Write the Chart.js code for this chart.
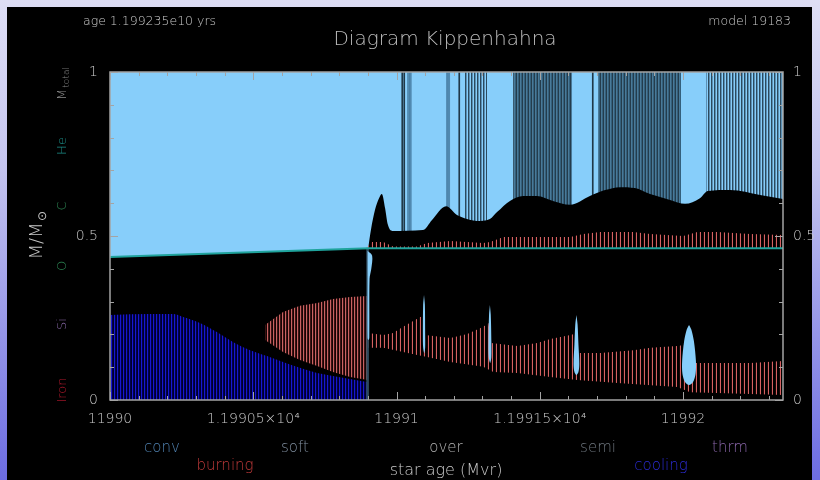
<!DOCTYPE html>
<html>
<head>
<meta charset="utf-8">
<script src="https://cdn.jsdelivr.net/npm/chart.js@4.4.0/dist/chart.umd.min.js"></script>
<style>
  html, body { margin: 0; padding: 0; }
  body {
    width: 820px; height: 480px; overflow: hidden; position: relative;
    background: linear-gradient(to bottom, #dedef5 0%, #c4c4ef 35%, #6c6ce2 100%);
  }
  #panel { position: absolute; left: 7px; top: 7px; width: 805px; height: 473px; background: #000; }
  #myChart { position: absolute; left: 0; top: 0; }
</style>
</head>
<body>
<div id="panel"></div>
<canvas id="myChart" width="820" height="480"></canvas>
<script>
// axis ticks
var xTickValues = [11990, 11990.5, 11991, 11991.5, 11992];
var xTickLabels = ['11990', '1.19905×10⁴', '11991', '1.19915×10⁴', '11992'];
var yTickValues = [0, 0.5, 1];
var yTickLabels = ['0', '0.5', '1'];

// total mass (top of plot) and He core boundary
var totalAge = [11990, 11992.349];
var totalMass = [1, 1];
var heAge = [11990, 11990.905, 11992.349];
var heMass = [0.436, 0.463, 0.463];

// top of the radiative (black) region above the He core
var envAge = [11990.901, 11990.911, 11990.925, 11990.939, 11990.949, 11990.960, 11990.970, 11990.988, 11991.092, 11991.124,
  11991.173, 11991.211, 11991.246, 11991.281, 11991.326, 11991.351, 11991.396, 11991.442, 11991.490, 11991.546, 11991.606,
  11991.675, 11991.728, 11991.780, 11991.832, 11991.885, 11991.955, 11992.007, 11992.059, 11992.087, 11992.164, 11992.269, 11992.349];
var envMass = [0.463, 0.52, 0.58, 0.615, 0.628, 0.585, 0.534, 0.515, 0.518, 0.549,
  0.591, 0.564, 0.552, 0.546, 0.552, 0.573, 0.607, 0.622, 0.622, 0.607, 0.595,
  0.622, 0.640, 0.649, 0.646, 0.628, 0.610, 0.598, 0.615, 0.637, 0.640, 0.625, 0.613];

// semiconvection: single lines and dense zones
var semiLineAge = [11991.020, 11991.027, 11991.040, 11991.045, 11991.050, 11991.176, 11991.180, 11991.184, 11991.219, 11991.685];
var semiZoneStart = [11991.239, 11991.407, 11991.703, 11992.080];
var semiZoneEnd = [11991.316, 11991.613, 11991.993, 11992.349];

// neutrino cooling region (from centre)
var coolAge = [11990.000, 11990.140, 11990.220, 11990.255, 11990.314, 11990.373, 11990.429, 11990.489, 11990.548,
  11990.604, 11990.663, 11990.723, 11990.778, 11990.838, 11990.897];
var coolTop = [0.259, 0.262, 0.262, 0.253, 0.235, 0.207, 0.177, 0.152, 0.134, 0.116, 0.098, 0.082, 0.073, 0.064, 0.055];

// burning before the flash
var burnAgeL = [11990.541, 11990.604, 11990.663, 11990.723, 11990.778, 11990.838, 11990.899];
var burnTopL = [0.229, 0.268, 0.287, 0.296, 0.308, 0.314, 0.317];
var burnBotL = [0.183, 0.146, 0.122, 0.104, 0.085, 0.070, 0.061];

// burning after the flash (lower band)
var burnAgeR = [11990.901, 11990.954, 11990.988, 11991.023, 11991.083, 11991.094, 11991.100, 11991.188, 11991.247, 11991.303,
  11991.321, 11991.330, 11991.422, 11991.491, 11991.537, 11991.607, 11991.620, 11991.632, 11991.711, 11991.827, 11991.886,
  11991.980, 11992.004, 11992.015, 11992.120, 11992.235, 11992.349];
var burnTopR = [0.204, 0.198, 0.204, 0.223, 0.253, 0.255, 0.198, 0.189, 0.201, 0.223,
  0.235, 0.174, 0.165, 0.174, 0.186, 0.198, 0.201, 0.143, 0.143, 0.152, 0.159,
  0.165, 0.168, 0.113, 0.113, 0.113, 0.119];
var burnBotAgeR = [11990.901, 11990.954, 11991.072, 11991.107, 11991.188, 11991.303, 11991.338, 11991.422, 11991.537,
  11991.631, 11991.771, 11991.980, 11992.025, 11992.120, 11992.349];
var burnBotR = [0.159, 0.159, 0.137, 0.131, 0.116, 0.101, 0.085, 0.082, 0.070, 0.061, 0.052, 0.040, 0.024, 0.021, 0.015];

// He shell burning just above the core
var shellAge = [11990.901, 11990.915, 11990.954, 11990.988, 11991.072, 11991.107, 11991.188, 11991.303, 11991.327, 11991.373,
  11991.422, 11991.537, 11991.607, 11991.652, 11991.711, 11991.827, 11991.886, 11992.001, 11992.050, 11992.120, 11992.235, 11992.349];
var shellTop = [0.470, 0.482, 0.482, 0.468, 0.468, 0.479, 0.485, 0.479, 0.482, 0.497,
  0.497, 0.497, 0.497, 0.506, 0.512, 0.512, 0.506, 0.500, 0.512, 0.512, 0.506, 0.503];

// flash edge line
var edgeAge = [11990.899];
var edgeLow = [0];
var edgeHigh = [0.463];

// convective pockets (outline of each)
var pocket0Age = [11990.899, 11990.915, 11990.912, 11990.906, 11990.905, 11990.902, 11990.899, 11990.899, 11990.899];
var pocket0Mass = [0.455, 0.44, 0.40, 0.37, 0.19, 0.183, 0.19, 0.37, 0.455];
var pocket1Age = [11991.096, 11991.099, 11991.100, 11991.100, 11991.097, 11991.093, 11991.092, 11991.093, 11991.096];
var pocket1Mass = [0.320, 0.29, 0.20, 0.16, 0.143, 0.16, 0.20, 0.29, 0.320];
var pocket2Age = [11991.326, 11991.329, 11991.331, 11991.331, 11991.327, 11991.322, 11991.321, 11991.323, 11991.326];
var pocket2Mass = [0.290, 0.26, 0.18, 0.13, 0.113, 0.13, 0.18, 0.26, 0.290];
var pocket3Age = [11991.628, 11991.632, 11991.635, 11991.638, 11991.635, 11991.628, 11991.621, 11991.618, 11991.621, 11991.624, 11991.628];
var pocket3Mass = [0.259, 0.23, 0.17, 0.11, 0.085, 0.076, 0.085, 0.11, 0.17, 0.23, 0.259];
var pocket4Age = [11992.021, 11992.029, 11992.038, 11992.045, 11992.044, 11992.035, 11992.021, 11992.007, 11991.998, 11991.997, 11992.004, 11992.013, 11992.021];
var pocket4Mass = [0.229, 0.215, 0.18, 0.12, 0.08, 0.055, 0.046, 0.055, 0.08, 0.12, 0.18, 0.215, 0.229];

var ctx = document.getElementById('myChart').getContext('2d');

function pts(xs, ys) {
  return xs.map(function(x, i) { return { x: x, y: ys[i] }; });
}

// vertical hatching used by the Kippenhahn regions
function stripes(colors) {
  var c = document.createElement('canvas');
  c.width = colors.length;
  c.height = 1;
  var g = c.getContext('2d');
  colors.forEach(function(col, i) {
    g.fillStyle = col;
    g.fillRect(i, 0, 1, 1);
  });
  return ctx.createPattern(c, 'repeat');
}

var lightBlue = '#87cefa';
var bluePattern = stripes(['#1818d0', '#00004c', '#00002a']);
var redPatternL = stripes(['#c86262', '#3a1212', '#140404']);
var redPatternR = stripes(['#d46262', '#000000', '#000000', '#1a0505']);
var denseSemi = stripes(['#243c4c', '#4a7a99', '#34607c']);
var sparseSemi = stripes(['#2c4a5e', '#5b90b5', '#87cefa']);
var zonePatterns = [sparseSemi, denseSemi, denseSemi, sparseSemi];
var semiLineColors = ['#1f3848', '#1f3848', '#5089b0', '#4a80a6', '#5089b0', '#5089b0', '#4a80a6', '#5089b0', '#1f3848', '#1f3848'];

function area(data, fill, bg, order, extra) {
  var d = {
    type: 'line', data: data, fill: fill, backgroundColor: bg,
    borderColor: 'rgba(0,0,0,0)', borderWidth: 0, pointRadius: 0, order: order
  };
  for (var k in extra) d[k] = extra[k];
  return d;
}

var datasets = [];
// 0: He core line
datasets.push({
  type: 'line', data: pts(heAge, heMass), borderColor: '#1fa39c', borderWidth: 2,
  pointRadius: 0, fill: false, order: 1
});
// light blue (convective) from core to surface
datasets.push(area(pts(totalAge, totalMass), 0, lightBlue, 40));
semiZoneStart.forEach(function(s, i) {
  datasets.push(area([{ x: s, y: 1 }, { x: semiZoneEnd[i], y: 1 }], { value: heMass[2] }, zonePatterns[i], 35));
});
datasets.push({
  type: 'bar', data: semiLineAge.map(function(x) { return { x: x, y: [heMass[2], 1] }; }),
  backgroundColor: semiLineColors, barThickness: 1, grouped: false, order: 30
});
// radiative envelope
datasets.push(area(pts(envAge, envMass), 0, '#000000', 20, { cubicInterpolationMode: 'monotone' }));
// cooling
datasets.push(area(pts(coolAge, coolTop), 'origin', bluePattern, 10, { cubicInterpolationMode: 'monotone' }));
// burning, left
var iBotL = datasets.length;
datasets.push(area(pts(burnAgeL, burnBotL), false, 'rgba(0,0,0,0)', 50));
datasets.push(area(pts(burnAgeL, burnTopL), iBotL, redPatternL, 8));
// burning, right
var iBotR = datasets.length;
datasets.push(area(pts(burnBotAgeR, burnBotR), false, 'rgba(0,0,0,0)', 50));
datasets.push(area(pts(burnAgeR, burnTopR), iBotR, redPatternR, 8));
datasets.push(area(pts(shellAge, shellTop), 0, redPatternR, 8));
// edge line at the flash
datasets.push({
  type: 'bar', data: edgeAge.map(function(x, i) { return { x: x, y: [edgeLow[i], edgeHigh[i]] }; }),
  backgroundColor: '#2e4a5c', barThickness: 2, grouped: false, order: 6
});
// convective pockets
[[pocket0Age, pocket0Mass], [pocket1Age, pocket1Mass], [pocket2Age, pocket2Mass], [pocket3Age, pocket3Mass], [pocket4Age, pocket4Mass]]
  .forEach(function(p) {
    datasets.push(area(pts(p[0], p[1]), 'shape', lightBlue, 4, { tension: 0.3 }));
  });

var tickFont = { family: 'DejaVu Sans', size: 14, weight: 200 };

// frame + inward ticks
var framePlugin = {
  id: 'frame',
  afterDatasetsDraw: function(chart) {
    var c = chart.ctx, a = chart.chartArea, sx = chart.scales.x, sy = chart.scales.y;
    c.save();
    c.strokeStyle = '#a4a4a4';
    c.lineWidth = 1.5;
    c.strokeRect(a.left, a.top, a.right - a.left, a.bottom - a.top);
    c.lineWidth = 1;
    c.beginPath();
    for (var k = 0; k <= 10; k++) {
      var y = Math.round(sy.getPixelForValue(k / 10)) + 0.5;
      var len = (k % 5 === 0) ? 8 : 4;
      c.moveTo(a.left, y); c.lineTo(a.left + len, y);
      c.moveTo(a.right, y); c.lineTo(a.right - len, y);
    }
    for (var j = 0; j <= 23; j++) {
      var x = Math.round(sx.getPixelForValue(11990 + j / 10)) + 0.5;
      var l2 = (j % 5 === 0) ? 8 : 4;
      c.moveTo(x, a.bottom); c.lineTo(x, a.bottom - l2);
      c.moveTo(x, a.top); c.lineTo(x, a.top + l2);
    }
    c.stroke();
    c.restore();
  }
};

function put(c, s, x, y, color, size, align) {
  c.font = '200 ' + size + 'px "DejaVu Sans"';
  c.fillStyle = color;
  c.textAlign = align || 'center';
  c.textBaseline = 'middle';
  c.fillText(s, x, y);
}

function putUp(c, s, sub, x, y, color, size, subSize) {
  c.save();
  c.translate(x, y);
  c.rotate(-Math.PI / 2);
  c.font = '200 ' + size + 'px "DejaVu Sans"';
  var w1 = c.measureText(s).width;
  c.font = '200 ' + subSize + 'px "DejaVu Sans"';
  var w2 = sub ? c.measureText(sub).width : 0;
  var start = -(w1 + w2) / 2;
  put(c, s, start, 0, color, size, 'left');
  if (sub) put(c, sub, start + w1 + 1, size * 0.3, color, subSize, 'left');
  c.restore();
}

var legendTop = [['conv', 162, '#4f81b0'], ['soft', 295, '#7e8c9c'], ['over', 446, '#b4b4b4'], ['semi', 598, '#6c747c'], ['thrm', 730, '#8a66aa']];
var legendBottom = [['burning', 225, '#c03a3a'], ['cooling', 661, '#2b2bd4']];
var elementLabels = [['He', 146, '#1c8c86'], ['C', 206, '#2e8b57'], ['O', 266, '#2e8b57'], ['Si', 324, '#8a6aaa'], ['Iron', 390, '#b0182c']];

var textPlugin = {
  id: 'texts',
  afterDraw: function(chart) {
    var c = chart.ctx;
    c.save();
    put(c, 'age 1.199235e10 yrs', 83, 22, '#c8c8c8', 12.5, 'left');
    put(c, 'model 19183', 791, 22, '#c8c8c8', 12.5, 'right');
    put(c, 'Diagram Kippenhahna', 445, 40, '#bcbcbc', 20);
    legendTop.forEach(function(t) { put(c, t[0], t[1], 448, t[2], 15); });
    legendBottom.forEach(function(t) { put(c, t[0], t[1], 466, t[2], 15); });
    put(c, 'star age (Mvr)', 446, 471, '#c8c8c8', 16);
    putUp(c, 'M/M', '⊙', 37, 236, '#c8c8c8', 18, 12);
    putUp(c, 'M', 'total', 63, 84, '#8a8a8a', 13, 9);
    elementLabels.forEach(function(t) { putUp(c, t[0], null, 63, t[1], t[2], 13, 9); });
    c.restore();
  }
};

var myChart = new Chart(ctx, {
  type: 'line',
  data: { datasets: datasets },
  options: {
    responsive: false,
    animation: false,
    devicePixelRatio: 1,
    events: [],
    layout: { padding: { top: 72, left: 0, right: 0, bottom: 0 } },
    plugins: { legend: { display: false }, tooltip: { enabled: false } },
    scales: {
      x: {
        type: 'linear', position: 'bottom', min: 11990, max: 11992.349, offset: false,
        grid: { display: false, drawTicks: false }, border: { display: false },
        afterBuildTicks: function(axis) { axis.ticks = xTickValues.map(function(v) { return { value: v }; }); },
        afterFit: function(axis) { axis.height = 80; },
        ticks: {
          color: '#c8c8c8', font: tickFont, padding: 11, maxRotation: 0, autoSkip: false,
          callback: function(value, index) { return xTickLabels[index]; }
        }
      },
      y: {
        type: 'linear', position: 'left', min: 0, max: 1,
        grid: { display: false, drawTicks: false }, border: { display: false },
        afterBuildTicks: function(axis) { axis.ticks = yTickValues.map(function(v) { return { value: v }; }); },
        afterFit: function(axis) { axis.width = 110; },
        ticks: {
          color: '#c8c8c8', font: tickFont, padding: 12,
          callback: function(value, index) { return yTickLabels[index]; }
        }
      },
      y2: {
        type: 'linear', position: 'right', min: 0, max: 1,
        grid: { display: false, drawTicks: false }, border: { display: false },
        afterBuildTicks: function(axis) { axis.ticks = yTickValues.map(function(v) { return { value: v }; }); },
        afterFit: function(axis) { axis.width = 37; },
        ticks: {
          color: '#c8c8c8', font: tickFont, padding: 10,
          callback: function(value, index) { return yTickLabels[index]; }
        }
      }
    }
  },
  plugins: [framePlugin, textPlugin]
});
</script>
</body>
</html>
